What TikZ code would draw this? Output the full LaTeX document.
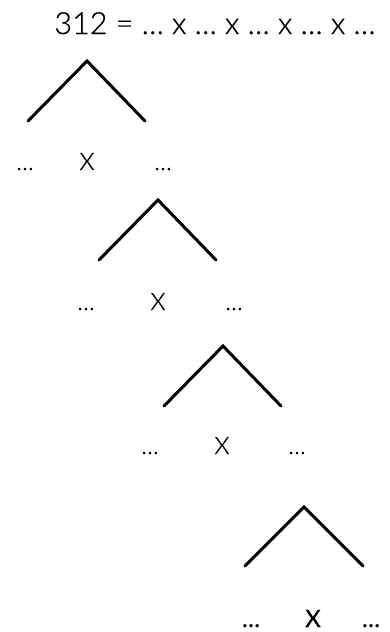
\documentclass[tikz,border=0pt]{standalone}
\usepackage{fontspec}
\setmainfont{Lato}[UprightFont={* Light},UprightFeatures={FakeBold=0.6},BoldFont={*},BoldFeatures={FakeBold=0.4}]
\tikzset{branch/.style={line width=3pt,line cap=round},
  lbl/.style={anchor=base,inner sep=0pt,font=\fontsize{24}{28}\selectfont},
  lblbold/.style={lbl,font=\fontsize{24}{28}\selectfont\bfseries}}
\begin{document}
\begin{tikzpicture}[x=1pt,y=-1pt]
\useasboundingbox (0,0) rectangle (390,632);
\node[anchor=base,inner sep=0pt,font=\fontsize{30.5}{36}\selectfont] (title) at (215,34) {312 = … x … x … x … x …};
% the factor trees, one under the other
\foreach \n/\ax/\ay/\by/\lx/\mx/\rx in {1/87/61/170/25/87/163,2/158/200/310/86/158/234,3/223/346/454/150/222/297}{
  \coordinate (top\n) at (\ax,\ay);
  \coordinate (l\n) at (\ax-59,\ay+60);
  \coordinate (r\n) at (\ax+58,\ay+60);
  \draw[branch] (l\n) -- (top\n) -- (r\n);
  \node[lbl] (dl\n) at (\lx,\by) {…};
  \node[lbl] (x\n) at (\mx,\by) {X};
  \node[lbl] (dr\n) at (\rx,\by) {…};
}
\coordinate (top4) at (304,507);
\coordinate (l4) at (245,566);
\coordinate (r4) at (363,566);
\draw[branch] (l4) -- (top4) -- (r4);
\node[lblbold] (dl4) at (251,627) {…};
\node[lblbold] (x4) at (313,627) {X};
\node[lblbold] (dr4) at (371,627) {…};
\end{tikzpicture}
\end{document}
